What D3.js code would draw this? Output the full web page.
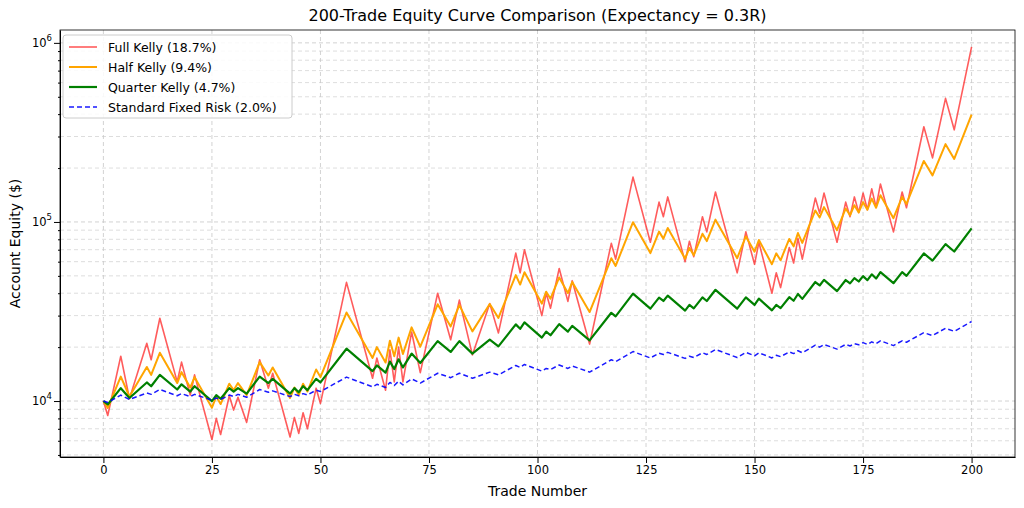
<!DOCTYPE html>
<html><head><meta charset="utf-8">
<script src="https://cdn.jsdelivr.net/npm/d3@7"></script>
<style>body{margin:0;background:#fff;font-family:"DejaVu Sans",sans-serif}</style>
</head><body><svg id="c" width="1024" height="508"></svg>
<script>
// Vertex trades (turning points) and equity values in $ thousands
const trades = [0,1,4,6,10,11,13,17,18,20,21,25,26,27,29,30,31,33,36,38,39,43,44,45,46,47,49,50,56,62,63,65,66,67,68,69,71,73,77,80,82,85,89,91,95,96,97,101,102,103,105,107,108,112,117,118,122,126,128,129,130,134,135,136,138,139,141,146,148,150,151,154,155,156,158,159,160,161,164,165,166,169,171,172,173,174,175,176,177,178,179,182,184,185,189,191,194,196,200];
const fullKelly = [10,8.3,17.8,10.3,21,17,29,12.8,16.5,10.8,14,6.1,8,6.5,10.7,8.9,10.5,7.6,17,11.8,14.3,6.3,8.1,6.6,8.6,7,11.8,9.7,46,13.4,17.4,11.5,19.3,12.8,20,12.8,24.3,14.4,40,22,36.6,18.1,35,24,67,52,70,30,40,33,55,36,47,20.8,76,62,178,77,129,107,138,60,78,64,107,88,147,52,88,58,77,40,52,43,72,59,81,62,136,112,145,77,129,107,138,113,145,117,153,121,163,88,147,120,340,228,490,327,950];
const halfKelly = [10,9.16,13.7,10.6,15.5,14.0,18.6,12.6,14.5,11.9,13.6,9.18,10.6,9.62,12.5,11.5,12.6,10.8,16.5,13.9,15.4,10.4,11.9,10.8,12.5,11.3,15.0,13.6,31.2,17.4,20.0,16.4,21.7,17.8,22.6,18.3,25.8,20.1,34.7,26.1,34.3,24.5,34.8,29.1,50.5,44.7,52.4,35.0,40.8,37.3,49.0,40.1,46.2,31.4,62.7,56.8,99.7,67.0,88.3,80.7,92.5,62.4,71.6,65.2,85.9,78.2,103,62.8,83.0,68.2,79.3,58.1,66.8,61.1,80.4,73.1,86.7,76.4,116,106,121,89.9,119,109,124,113,129,117,135,120,141,105,138,126,219,182,272,225,398];
const quarterKelly = [10,9.57,11.8,10.4,12.7,12.1,14.0,11.6,12.4,11.3,12.1,10.0,10.8,10.3,11.8,11.3,11.8,11.0,13.7,12.6,13.3,11.0,11.8,11.2,12.1,11.5,13.3,12.7,19.6,14.7,15.8,14.4,16.6,15.1,17.1,15.4,18.4,16.3,21.6,18.8,21.6,18.4,22.0,20.2,26.8,25.3,27.5,22.6,24.4,23.3,26.9,24.4,26.3,21.8,31.1,29.7,39.8,32.8,37.8,36.2,38.8,32.0,34.4,32.9,37.9,36.2,41.8,32.8,37.9,34.4,37.3,32.1,34.4,33.0,38.0,36.3,39.6,37.2,46.2,44.2,47.5,41.1,47.4,45.4,48.6,46.5,49.8,47.3,51.0,48.3,52.5,45.5,52.5,50.0,66.7,60.8,75.2,68.4,92.0];
const fixedRisk = [10,9.82,10.8,10.2,11.1,10.9,11.6,10.7,11.0,10.6,10.9,10.1,10.4,10.2,10.8,10.6,10.9,10.5,11.6,11.2,11.4,10.6,10.9,10.7,11.0,10.8,11.5,11.3,13.6,12.0,12.4,11.9,12.7,12.2,12.9,12.3,13.3,12.6,14.3,13.5,14.3,13.4,14.5,14.0,15.8,15.4,16.0,14.7,15.2,15.0,15.9,15.2,15.7,14.5,17.0,16.6,18.9,17.4,18.5,18.2,18.7,17.3,17.8,17.5,18.6,18.2,19.4,17.5,18.7,17.9,18.6,17.4,18.0,17.7,18.8,18.4,19.1,18.6,20.5,20.0,20.7,19.5,20.7,20.3,20.9,20.6,21.2,20.7,21.4,20.9,21.7,20.4,21.7,21.3,24.1,23.2,25.5,24.5,27.8];
const UNIT = 1000;
const xTicks = [0,25,50,75,100,125,150,175,200];
const yMajor = [1e4,1e5,1e6];
const seriesNames = ["Full Kelly (18.7%)","Half Kelly (9.4%)","Quarter Kelly (4.7%)","Standard Fixed Risk (2.0%)"];

const svg = d3.select("#c");
const L=60,R=1015,T=30,B=457;
const x = d3.scaleLinear().domain([-10,210]).range([L,R]);
const y = d3.scaleLog().domain([4870,1.18e6]).range([B,T]);

const minor=[];
for(let d=1e3; d<=1e6; d*=10) for(let k=2;k<=9;k++){const v=d*k; if(v>4870&&v<1.18e6) minor.push(v);}
const g=svg.append("g");
g.selectAll(".mg").data(minor).join("line").attr("x1",L).attr("x2",R).attr("y1",d=>y(d)).attr("y2",d=>y(d))
 .attr("stroke","#d4d4d4").attr("stroke-dasharray","4,3").attr("stroke-width",0.8);
g.selectAll(".My").data(yMajor).join("line").attr("x1",L).attr("x2",R).attr("y1",d=>y(d)).attr("y2",d=>y(d))
 .attr("stroke","#c8c8c8").attr("stroke-dasharray","4,3").attr("stroke-width",0.8);
g.selectAll(".xg").data(xTicks).join("line").attr("y1",T).attr("y2",B).attr("x1",d=>x(d)).attr("x2",d=>x(d))
 .attr("stroke","#c8c8c8").attr("stroke-dasharray","4,3").attr("stroke-width",0.8);

const xa = svg.append("g").attr("transform",`translate(0,${B})`).call(d3.axisBottom(x).tickValues(xTicks).tickSizeOuter(0));
xa.selectAll("text").attr("font-size",11.5).attr("fill","#000").attr("font-family","DejaVu Sans");
svg.append("g").attr("transform",`translate(${L},0)`).call(d3.axisLeft(y).tickValues(yMajor).tickFormat("").tickSizeOuter(0));
svg.append("g").attr("transform",`translate(${L},0)`).call(d3.axisLeft(y).tickValues(minor).tickSize(2).tickFormat("")).select(".domain").remove();
yMajor.forEach(v=>{
  const t=svg.append("text").attr("x",L-8).attr("y",y(v)+4).attr("text-anchor","end").attr("font-size",11.5);
  t.append("tspan").text("10");
  t.append("tspan").attr("font-size",8.5).attr("dy",-6).text(Math.round(Math.log10(v)));
});
svg.append("rect").attr("x",L).attr("y",T).attr("width",R-L).attr("height",B-T).attr("fill","none").attr("stroke","#000").attr("stroke-width",0.8);

const line = d3.line().x((d,i)=>x(trades[i])).y(d=>y(d*UNIT));
const styles=[
 {data:fullKelly,color:"#ff3333",w:1.6,op:0.8,dash:null},
 {data:halfKelly,color:"#ffa500",w:2,op:1,dash:null},
 {data:quarterKelly,color:"#008000",w:2.2,op:1,dash:null},
 {data:fixedRisk,color:"#0000ff",w:1.5,op:0.9,dash:"5,3"}];
styles.forEach(s=>{
 svg.append("path").attr("d",line(s.data)).attr("fill","none").attr("stroke",s.color).attr("stroke-width",s.w)
  .attr("stroke-opacity",s.op).attr("stroke-dasharray",s.dash).attr("stroke-linejoin","round");
});

const lg=svg.append("g");
lg.append("rect").attr("x",63).attr("y",35).attr("width",229).attr("height",83).attr("rx",3).attr("fill","#fff").attr("fill-opacity",0.85).attr("stroke","#ccc");
seriesNames.forEach((n,i)=>{
 const yy=47+i*20, s=styles[i];
 lg.append("line").attr("x1",69).attr("x2",97).attr("y1",yy).attr("y2",yy).attr("stroke",s.color).attr("stroke-width",s.w).attr("stroke-opacity",s.op).attr("stroke-dasharray",s.dash);
 lg.append("text").attr("x",108).attr("y",yy+4.5).attr("font-size",12.5).text(n);
});

svg.append("text").attr("x",(L+R)/2).attr("y",21).attr("text-anchor","middle").attr("font-size",16).text("200-Trade Equity Curve Comparison (Expectancy = 0.3R)");
svg.append("text").attr("x",(L+R)/2).attr("y",496).attr("text-anchor","middle").attr("font-size",14).text("Trade Number");
svg.append("text").attr("transform",`translate(20,${(T+B)/2}) rotate(-90)`).attr("text-anchor","middle").attr("font-size",14).text("Account Equity ($)");
</script></body></html>
